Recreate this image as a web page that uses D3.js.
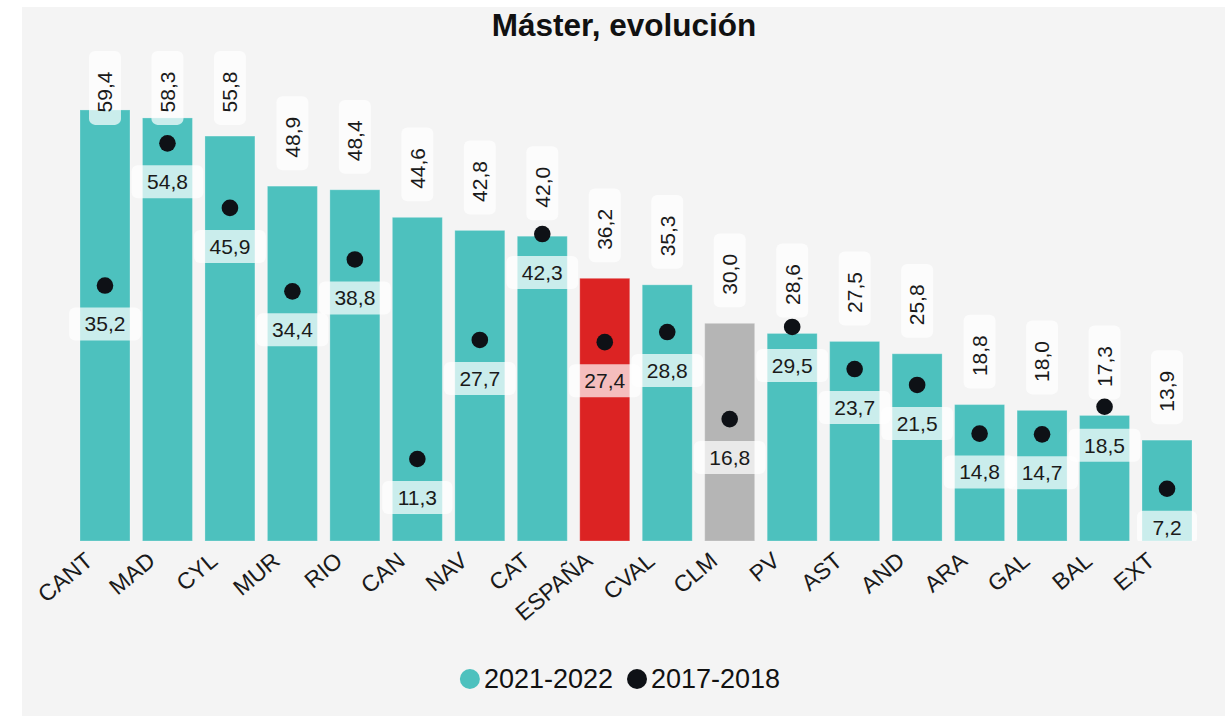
<!DOCTYPE html>
<html>
<head>
<meta charset="utf-8">
<script src="https://cdn.jsdelivr.net/npm/d3@7"></script>
<style>
	body { margin: 0; background: #fff; }
	svg text { font-family: "Liberation Sans", Arial, sans-serif; }
</style>
</head>
<body>
<svg id="chart" width="1225" height="716"></svg>
<script>
const regions = ["CANT", "MAD", "CYL", "MUR", "RIO", "CAN", "NAV", "CAT", "ESPAÑA", "CVAL", "CLM", "PV", "AST", "AND", "ARA", "GAL", "BAL", "EXT"];
const curso2122 = [59.4, 58.3, 55.8, 48.9, 48.4, 44.6, 42.8, 42.0, 36.2, 35.3, 30.0, 28.6, 27.5, 25.8, 18.8, 18.0, 17.3, 13.9];
const curso1718 = [35.2, 54.8, 45.9, 34.4, 38.8, 11.3, 27.7, 42.3, 27.4, 28.8, 16.8, 29.5, 23.7, 21.5, 14.8, 14.7, 18.5, 7.2];
const seriesNames = ["2021-2022", "2017-2018"];

const data = regions.map((r, i) => ({ name: r, now: curso2122[i], before: curso1718[i] }));

// colores
const teal = "#4dc1be";
const dark = "#0e1116";
const barColor = (d) => d.name === "ESPAÑA" ? "#dc2323" : d.name === "CLM" ? "#b5b5b5" : teal;

const es = d3.formatLocale({ decimal: ",", thousands: ".", grouping: [3], currency: ["", "€"] });
const fmt = es.format(".1f");

const svg = d3.select("#chart");
const baseY = 541;

svg.append("rect")
	.attr("x", 22).attr("y", 7)
	.attr("width", 1225 - 22).attr("height", 716 - 7)
	.attr("fill", "#f4f4f4");

// titulo
svg.append("text")
	.attr("x", 624).attr("y", 36)
	.attr("text-anchor", "middle")
	.attr("font-size", 31.5)
	.attr("font-weight", "bold")
	.attr("fill", "#111")
	.text("Máster, evolución");

// escalas
const x = d3.scaleBand()
	.domain(regions)
	.range([73.75, 1198.25])
	.paddingInner(0.2)
	.paddingOuter(0.1);

const y = d3.scaleLinear()
	.domain([0, 60])
	.range([baseY, baseY - 435.4]);

svg.append("clipPath").attr("id", "plot")
	.append("rect").attr("x", 22).attr("y", 0).attr("width", 1203).attr("height", baseY);

// barras
svg.append("g")
	.selectAll("rect")
	.data(data)
	.join("rect")
	.attr("x", d => x(d.name))
	.attr("y", d => y(d.now))
	.attr("width", x.bandwidth())
	.attr("height", d => baseY - y(d.now))
	.attr("fill", barColor)
	.attr("stroke", "#fff")
	.attr("stroke-opacity", 0.25);

// etiquetas 2017-2018 (debajo del punto)
const innerLabels = svg.append("g").attr("clip-path", "url(#plot)")
	.selectAll("g")
	.data(data)
	.join("g")
	.attr("transform", d => `translate(${x(d.name) + x.bandwidth() / 2}, ${y(d.before) + 38.5})`);

innerLabels.append("rect").attr("class", "box");
innerLabels.append("text")
	.attr("text-anchor", "middle")
	.attr("dy", "0.35em")
	.attr("font-size", 21)
	.attr("fill", "#1a1a1a")
	.text(d => fmt(d.before));

innerLabels.each(function() {
	const g = d3.select(this);
	const w = g.select("text").node().getComputedTextLength() + 31;
	g.select("rect.box")
		.attr("x", -w / 2).attr("y", -16.5)
		.attr("width", w).attr("height", 33)
		.attr("rx", 6)
		.attr("fill", "#fff")
		.attr("fill-opacity", 0.7);
});

// etiquetas 2021-2022 (rotadas, encima de la barra)
const topLabels = svg.append("g")
	.selectAll("g")
	.data(data)
	.join("g");

topLabels.append("rect").attr("class", "box");
topLabels.append("text")
	.attr("text-anchor", "middle")
	.attr("dy", "0.35em")
	.attr("font-size", 21)
	.attr("fill", "#1a1a1a")
	.text(d => fmt(d.now));

topLabels.each(function(d) {
	const g = d3.select(this);
	const len = g.select("text").node().getComputedTextLength() + 33;
	const cx = x(d.name) + x.bandwidth() / 2;
	const boxTop = Math.max(51, y(d.now) - 16 - len);
	g.select("rect.box")
		.attr("x", cx - 16).attr("y", boxTop)
		.attr("width", 32).attr("height", len)
		.attr("rx", 6)
		.attr("fill", "#fff")
		.attr("fill-opacity", 0.7);
	g.select("text")
		.attr("transform", `translate(${cx}, ${boxTop + len / 2 + 4}) rotate(-90)`);
});

// puntos 2017-2018
svg.append("g")
	.selectAll("circle")
	.data(data)
	.join("circle")
	.attr("cx", d => x(d.name) + x.bandwidth() / 2)
	.attr("cy", d => y(d.before))
	.attr("r", 8.3)
	.attr("fill", dark);

// eje x
svg.append("g")
	.selectAll("text")
	.data(regions)
	.join("text")
	.attr("text-anchor", "end")
	.attr("dy", "0.35em")
	.attr("font-size", 23)
	.attr("fill", "#1a1a1a")
	.attr("transform", d => `translate(${x(d) + x.bandwidth() / 2 - 16}, 557) rotate(-40)`)
	.text(d => d);

// leyenda
const legend = svg.append("g").attr("transform", "translate(0, 679)");
const items = legend.selectAll("g")
	.data(seriesNames)
	.join("g");
items.append("circle").attr("r", 10).attr("fill", (d, i) => i === 0 ? teal : dark);
items.append("text")
	.attr("x", 14)
	.attr("dy", "0.35em")
	.attr("font-size", 27)
	.attr("fill", "#111")
	.text(d => d);

const widths = [];
items.each(function() {
	widths.push(d3.select(this).select("text").node().getComputedTextLength() + 24);
});
const total = d3.sum(widths) + 14 * (widths.length - 1);
let cursor = 620 - total / 2 + 10;
items.attr("transform", (d, i) => {
	const t = `translate(${cursor}, 0)`;
	cursor += widths[i] + 14;
	return t;
});
</script>
</body>
</html>
